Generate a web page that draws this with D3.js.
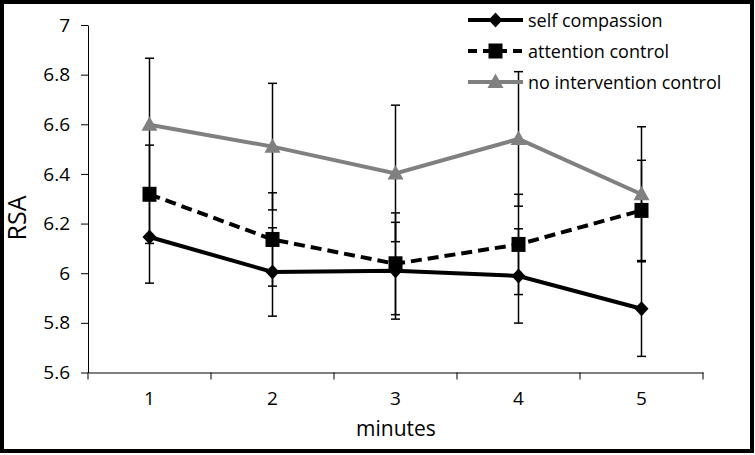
<!DOCTYPE html>
<html>
<head>
<meta charset="utf-8">
<script src="https://cdn.jsdelivr.net/npm/d3@7"></script>
<style>
  html, body { margin: 0; padding: 0; background: #fff; }
  svg { display: block; }
  text { font-family: "Open Sans", sans-serif; fill: #000; }
</style>
</head>
<body>
<svg id="chart" width="755" height="455"></svg>
<script>
// ---- data ----
const minutes = ["1", "2", "3", "4", "5"];
const seriesNames = ["self compassion", "attention control", "no intervention control"];
const selfCompassion = [6.146, 6.005, 6.010, 5.989, 5.857];
const selfCompassionErr = [0.186, 0.178, 0.195, 0.190, 0.192];
const attentionControl = [6.318, 6.136, 6.038, 6.116, 6.253];
const attentionControlErr = [0.198, 0.188, 0.205, 0.202, 0.202];
const noIntervention = [6.598, 6.510, 6.402, 6.541, 6.318];
const noInterventionErr = [0.268, 0.255, 0.275, 0.271, 0.272];
const yTicks = [5.6, 5.8, 6, 6.2, 6.4, 6.6, 6.8, 7];

const svg = d3.select("#chart");
const W = 755, H = 455;

// outer border
svg.append("rect").attr("x", 2).attr("y", 2).attr("width", W - 5).attr("height", H - 6)
  .attr("fill", "#fff").attr("stroke", "#000").attr("stroke-width", 4);

const x = d3.scaleBand().domain(minutes).range([88, 703]).paddingInner(0).paddingOuter(0);
const y = d3.scaleLinear().domain([5.6, 7]).range([372.5, 25]);
const cx = d => x(d) + x.bandwidth() / 2;

// y axis
const yAxis = svg.append("g").attr("transform", "translate(88,0)")
  .call(d3.axisLeft(y).tickValues(yTicks).tickSize(7).tickSizeOuter(0)
    .tickFormat(d => d3.format("")(+d.toFixed(1))));
yAxis.select(".domain").attr("stroke", "#000").attr("stroke-width", 1);
yAxis.selectAll(".tick line").attr("stroke", "#000");
yAxis.selectAll(".tick text").attr("font-size", 19).attr("font-family", "Open Sans").attr("x", -18);

// x axis
const xAxis = svg.append("g").attr("transform", "translate(0,372.5)")
  .call(d3.axisBottom(x).tickSize(0).tickSizeOuter(0));
xAxis.select(".domain").attr("stroke", "#000").attr("stroke-width", 1);
xAxis.selectAll(".tick text").attr("font-size", 19).attr("font-family", "Open Sans")
  .attr("y", 32).attr("dy", 0);
const edges = minutes.map(m => x(m)).concat([x(minutes[minutes.length - 1]) + x.bandwidth()]);
xAxis.selectAll("line.edge").data(edges).enter().append("line")
  .attr("class", "edge").attr("x1", d => d).attr("x2", d => d).attr("y1", 0).attr("y2", 7)
  .attr("stroke", "#000").attr("stroke-width", 1);

// axis titles
svg.append("text").attr("transform", "translate(19,218) rotate(-90)")
  .attr("text-anchor", "middle").attr("dominant-baseline", "middle")
  .attr("font-size", 25).text("RSA");
svg.append("text").attr("x", 396).attr("y", 436).attr("text-anchor", "middle")
  .attr("font-size", 21).text("minutes");

const series = [
  { name: seriesNames[0], vals: selfCompassion, err: selfCompassionErr, color: "#000", dash: null, shape: "diamond" },
  { name: seriesNames[1], vals: attentionControl, err: attentionControlErr, color: "#000", dash: "11,6", shape: "square" },
  { name: seriesNames[2], vals: noIntervention, err: noInterventionErr, color: "#808080", dash: null, shape: "triangle" }
];

function marker(g, shape, color) {
  if (shape === "diamond") {
    g.append("path").attr("d", "M0,-7.5L7,0L0,7.5L-7,0Z").attr("fill", color);
  } else if (shape === "square") {
    g.append("rect").attr("x", -7).attr("y", -7.5).attr("width", 14).attr("height", 15).attr("fill", color);
  } else {
    g.append("path").attr("d", "M0,-8.5L8,6L-8,6Z").attr("fill", color);
  }
}

// error bars
series.forEach(s => {
  const g = svg.append("g");
  minutes.forEach((m, i) => {
    const px = cx(m), hi = y(s.vals[i] + s.err[i]), lo = y(s.vals[i] - s.err[i]);
    g.append("line").attr("x1", px).attr("x2", px).attr("y1", hi).attr("y2", lo)
      .attr("stroke", "#000").attr("stroke-width", 1.5);
    [hi, lo].forEach(yy => g.append("line").attr("x1", px - 4.5).attr("x2", px + 4.5)
      .attr("y1", yy).attr("y2", yy).attr("stroke", "#000").attr("stroke-width", 1.5));
  });
});

// lines and markers
const line = d3.line().x((d, i) => cx(minutes[i])).y(d => y(d));
series.forEach(s => {
  svg.append("path").datum(s.vals).attr("d", line).attr("fill", "none")
    .attr("stroke", s.color).attr("stroke-width", 4).attr("stroke-dasharray", s.dash);
  s.vals.forEach((v, i) => {
    const g = svg.append("g").attr("transform", `translate(${cx(minutes[i])},${y(v)})`);
    marker(g, s.shape, s.color);
  });
});

// legend
const legendY = [20, 51, 82];
series.forEach((s, i) => {
  const g = svg.append("g").attr("transform", `translate(468,${legendY[i]})`);
  g.append("line").attr("x1", 0).attr("x2", 55).attr("y1", 0).attr("y2", 0)
    .attr("stroke", s.color).attr("stroke-width", 4).attr("stroke-dasharray", s.dash ? "9,6" : null);
  const mg = g.append("g").attr("transform", "translate(27.5,0)");
  marker(mg, s.shape, s.color);
  g.append("text").attr("x", 60).attr("y", 0).attr("dominant-baseline", "central")
    .attr("font-size", 18).text(s.name);
});
</script>
</body>
</html>
